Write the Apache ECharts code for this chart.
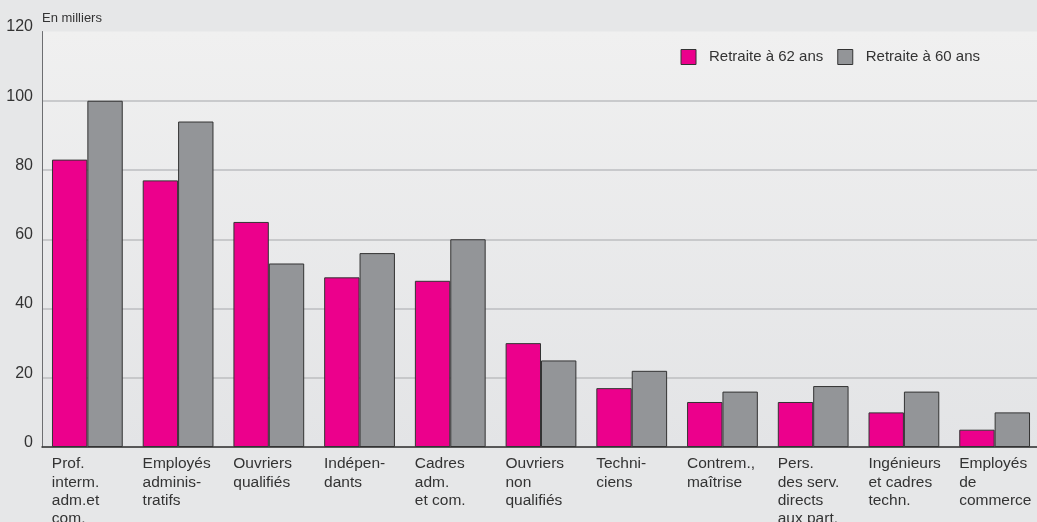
<!DOCTYPE html>
<html>
<head>
<meta charset="utf-8">
<script src="https://cdn.jsdelivr.net/npm/echarts@6/dist/echarts.min.js"></script>
<style>
    html, body { margin: 0; padding: 0; background: #e6e7e8; }
    #chart { width: 1037px; height: 522px; }
</style>
</head>
<body>
<div id="chart"></div>
<script>
let categories = [
    'Prof.\ninterm.\nadm.et\ncom.',
    'Employés\nadminis-\ntratifs',
    'Ouvriers\nqualifiés',
    'Indépen-\ndants',
    'Cadres\nadm.\net com.',
    'Ouvriers\nnon\nqualifiés',
    'Techni-\nciens',
    'Contrem.,\nmaîtrise',
    'Pers.\ndes serv.\ndirects\naux part.',
    'Ingénieurs\net cadres\ntechn.',
    'Employés\nde\ncommerce'
]
let retraite62 = [83, 77, 65, 49, 48, 30, 17, 13, 13, 10, 5]
let retraite60 = [100, 94, 53, 56, 60, 25, 22, 16, 17.6, 16, 10]
let yTicks = [0, 20, 40, 60, 80, 100, 120]

let font = 'Arial, "Liberation Sans", Helvetica, sans-serif'
let textColor = '#333'

let chart = echarts.init(document.getElementById('chart'))

chart.setOption({
    backgroundColor: '#e6e7e8',
    textStyle: { fontFamily: font },
    title: {
        text: 'En milliers',
        left: 42,
        top: 12,
        padding: 0,
        textStyle: { fontSize: 13, fontWeight: 'normal', color: textColor, fontFamily: font }
    },
    legend: {
        right: 52,
        top: 44,
        icon: 'rect',
        itemWidth: 15,
        itemHeight: 15,
        itemGap: 14,
        itemStyle: { borderColor: '#333', borderWidth: 1 },
        textStyle: { fontSize: 15, color: textColor, padding: [0, 0, 0, 8], fontFamily: font },
        data: ['Retraite à 62 ans', 'Retraite à 60 ans']
    },
    grid: {
        left: 42,
        right: -3,
        top: 31.5,
        bottom: 75,
        outerBoundsMode: 'none',
        containLabel: false,
        show: true,
        borderWidth: 0,
        backgroundColor: new echarts.graphic.LinearGradient(0, 0, 0, 1, [
            { offset: 0, color: '#f0f0f0' },
            { offset: 1, color: '#e3e4e6' }
        ])
    },
    xAxis: {
        type: 'category',
        data: categories,
        axisLine: { lineStyle: { color: '#333', width: 1.5 } },
        axisTick: { inside: true, length: 9, lineStyle: { color: '#6d6e71', width: 1 } },
        axisLabel: {
            interval: 0,
            margin: 8,
            // left-align each line inside a fixed-width box centred on the category
            formatter: v => v.split('\n').map(s => '{a|' + s + '}').join('\n'),
            rich: {
                a: { width: 71, align: 'left', fontSize: 15.5, lineHeight: 18.3, color: textColor, fontFamily: font }
            }
        }
    },
    yAxis: {
        type: 'value',
        min: yTicks[0],
        max: yTicks[yTicks.length - 1],
        interval: 20,
        axisLine: { show: true, lineStyle: { color: '#6d6e71', width: 1 } },
        axisTick: { show: false },
        axisLabel: {
            fontSize: 16,
            color: textColor,
            margin: 9,
            verticalAlign: 'bottom',
            lineHeight: 9,
            fontFamily: font,
            formatter: v => yTicks.includes(v) ? String(v) : ''
        },
        splitLine: {
            lineStyle: { color: '#bdbec0', width: 1.5 },
            showMaxLine: false
        }
    },
    series: [
        {
            name: 'Retraite à 62 ans',
            type: 'bar',
            data: retraite62,
            barGap: 0,
            barCategoryGap: '22%',
            itemStyle: { color: '#ec008c', borderColor: '#333', borderWidth: 1 }
        },
        {
            name: 'Retraite à 60 ans',
            type: 'bar',
            data: retraite60,
            itemStyle: { color: '#939598', borderColor: '#333', borderWidth: 1 }
        }
    ]
})
</script>
</body>
</html>
